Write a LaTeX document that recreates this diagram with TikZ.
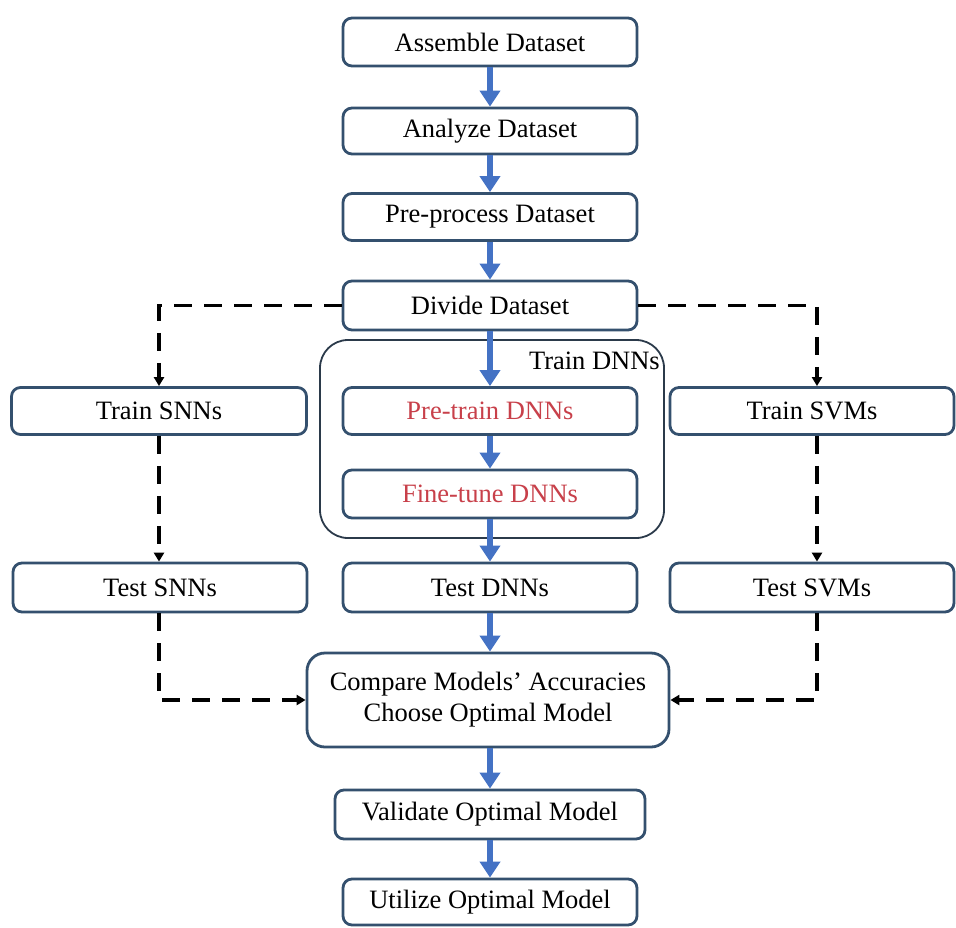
\documentclass[tikz,border=0pt]{standalone}
\usepackage{fontspec}
\setmainfont{Liberation Serif}
\usetikzlibrary{arrows.meta}
\definecolor{boxline}{HTML}{34506E}
\definecolor{arrowblue}{HTML}{4472C4}
\definecolor{redtext}{HTML}{C8404A}
\definecolor{groupline}{HTML}{2B3A4A}
\begin{document}
\begin{tikzpicture}[x=1pt,y=-1pt,
  box/.style={draw=boxline, line width=2.8pt, rounded corners=9pt, fill=white,
    minimum width=294pt, minimum height=48pt, inner sep=0pt,
    font=\fontsize{26.5}{31}\selectfont, align=center},
  groupbox/.style={draw=groupline, line width=1.8pt, rounded corners=28pt},
  flow/.style={draw=arrowblue, line width=6pt, -{Triangle[width=20pt,length=16pt]}},
  dflow/.style={draw=black, line width=3.5pt, dash pattern=on 18pt off 12pt,
    -{Triangle[width=10pt,length=9pt]}}
]
\useasboundingbox (0,0) rectangle (956,927);
\fill[white] (0,0) rectangle (956,927);

\node[groupbox, minimum width=344pt, minimum height=198pt] (group) at (492,439) {};
\node[font=\fontsize{26.5}{31}\selectfont, anchor=east, inner sep=0pt] (grouplabel) at (660,361) {Train DNNs};

\node[box] (assemble) at (490,42) {Assemble Dataset};
\node[box, minimum height=46pt] (analyze) at (490,131) {Analyze Dataset};
\node[box, minimum height=47pt] (preproc) at (490,217) {Pre-process Dataset};
\node[box, minimum height=49pt] (divide) at (490,305.5) {Divide Dataset};

\node[box, text=redtext, minimum height=47pt] (pretrain) at (490,411) {Pre-train DNNs};
\node[box, text=redtext] (finetune) at (490,494) {Fine-tune DNNs};
\node[box, minimum width=295pt, minimum height=47pt] (trsnn) at (159,411) {Train SNNs};
\node[box, minimum width=284pt, minimum height=47pt] (trsvm) at (812,411) {Train SVMs};

\node[box, minimum height=49pt] (tesnn) at (160,587.5) {Test SNNs};
\node[box, minimum height=49pt] (tednn) at (490,587.5) {Test DNNs};
\node[box, minimum width=284pt, minimum height=49pt] (tesvm) at (812,587.5) {Test SVMs};

\node[box, minimum width=362pt, minimum height=94pt, rounded corners=18pt] (compare) at (488,700) {Compare Models’ Accuracies\\Choose Optimal Model};
\node[box, minimum width=310pt, minimum height=49pt] (validate) at (490,814.5) {Validate Optimal Model};
\node[box, minimum height=46pt] (utilize) at (490,902) {Utilize Optimal Model};

\draw[flow] (assemble) -- (analyze);
\draw[flow] (analyze) -- (preproc);
\draw[flow] (preproc) -- (divide);
\draw[flow] (divide) -- (pretrain);
\draw[flow] (pretrain) -- (finetune);
\draw[flow] (finetune) -- (tednn);
\draw[flow] (tednn) -- (compare.north -| tednn);
\draw[flow] (compare.south -| validate) -- (validate);
\draw[flow] (validate) -- (utilize);

\draw[dflow] (divide.west) -| (trsnn.north);
\draw[dflow] (divide.east) -| ([xshift=5pt]trsvm.north);
\draw[dflow] (trsnn.south) -- (tesnn.north -| trsnn.south);
\draw[dflow] ([xshift=5pt]trsvm.south) -- ([xshift=5pt]tesvm.north);
\draw[dflow] (tesnn.south -| trsnn.south) |- (compare.west);
\draw[dflow] ([xshift=5pt]tesvm.south) |- (compare.east);
\end{tikzpicture}
\end{document}
